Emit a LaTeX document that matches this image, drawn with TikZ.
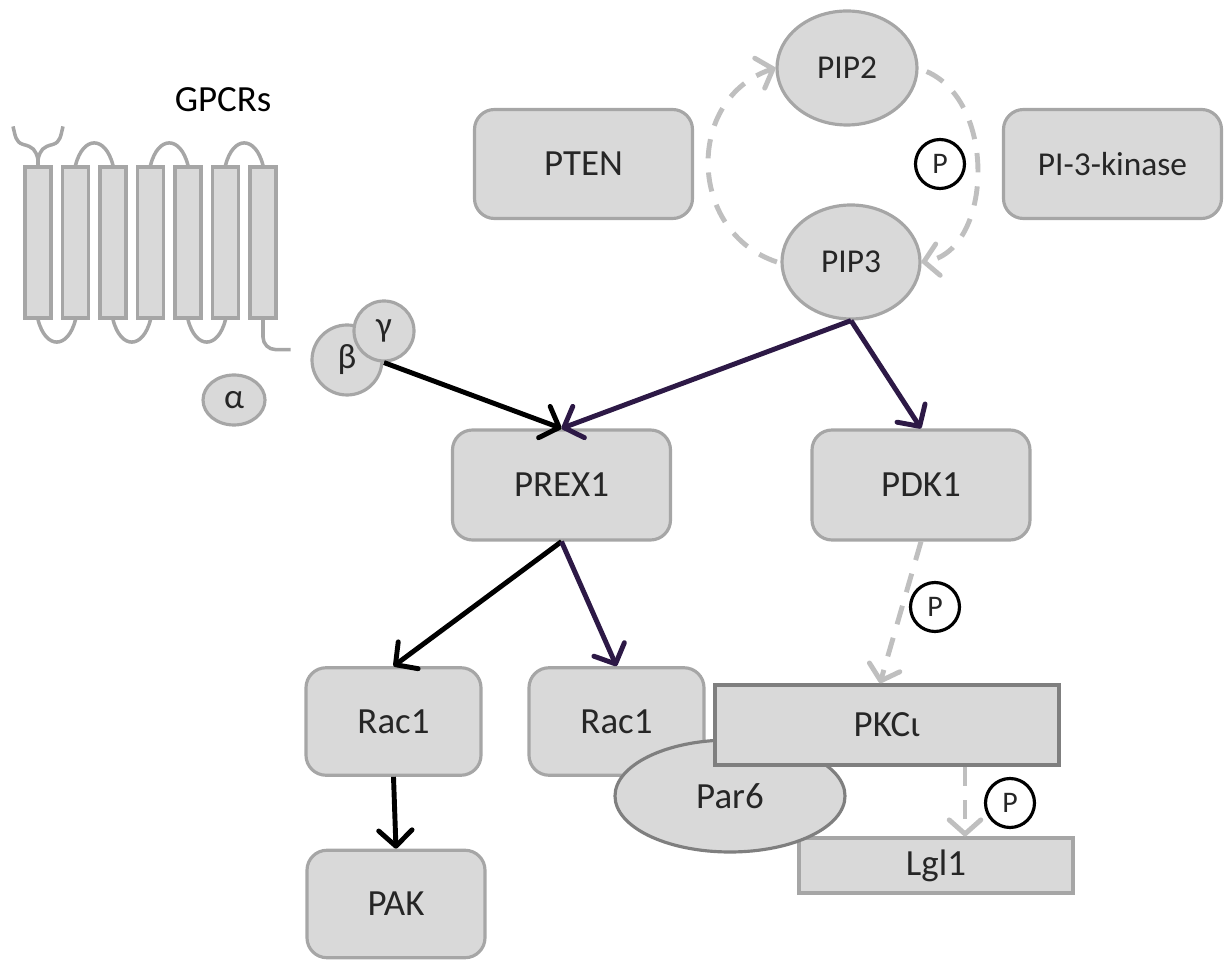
\documentclass[tikz,border=0pt]{standalone}
\usepackage{fontspec}
\setmainfont{Carlito}
\usetikzlibrary{arrows.meta,shapes.geometric}
\definecolor{boxfill}{HTML}{D9D9D9}
\definecolor{boxline}{HTML}{A6A6A6}
\definecolor{darkline}{HTML}{7F7F7F}
\definecolor{labeltext}{HTML}{262626}
\definecolor{actpurple}{RGB}{45,25,70}
\definecolor{phosgray}{HTML}{BFBFBF}

\begin{document}
\begin{tikzpicture}[every node/.style={font=\fontsize{21}{25}\selectfont, text=labeltext},
	prot/.style={draw=boxline, fill=boxfill, line width=1.8pt, rounded corners=0.4cm, minimum width=4.36cm, minimum height=2.18cm},
	smallprot/.style={prot, minimum width=3.5cm, minimum height=2.15cm},
	lipid/.style={ellipse, draw=boxline, fill=boxfill, line width=1.8pt, minimum width=2.8cm, minimum height=2.28cm, font=\fontsize{19}{23}\selectfont},
	subunit/.style={circle, draw=boxline, fill=boxfill, line width=1.8pt, inner sep=0pt, font=\fontsize{20}{24}\selectfont},
	helix/.style={draw=boxline, fill=boxfill, line width=1.8pt, minimum width=0.52cm, minimum height=3.02cm},
	loop/.style={draw=boxline, line width=2pt},
	phos/.style={circle, draw=black, fill=white, line width=1.8pt, minimum size=0.98cm, inner sep=0pt, font=\fontsize{17}{20}\selectfont},
	act/.style={line width=2.8pt, -{Straight Barb[length=9pt,width=19pt,round]}},
	phosarrow/.style={phosgray, line width=2.8pt, dash pattern=on 11pt off 8pt, -{Straight Barb[length=8pt,width=18pt,round]}}]
	\useasboundingbox (0,0) rectangle (24.5,19.28);
	% receptor with seven helices
	\node[text=black] (gpcr) at (4.46,17.28) {GPCRs};
	\foreach \i in {1,...,7}
		\node[helix] (tm\i) at ({0.01+0.75*\i},14.43) {};
	\foreach \a/\b in {2/3,4/5,6/7}
		\draw[loop] (tm\a.north) .. controls +(0.15,0.6) and +(-0.15,0.6) .. (tm\b.north);
	\foreach \a/\b in {1/2,3/4,5/6}
		\draw[loop] (tm\a.south) .. controls +(0.15,-0.6) and +(-0.15,-0.6) .. (tm\b.south);
	\draw[loop] (tm1.north) -- ++(0,0.12) coordinate (nterm);
	\draw[loop] (nterm) .. controls +(-0.05,0.2) and +(0.2,-0.05) .. ++(-0.3,0.3) .. controls +(-0.15,0.05) and +(0.05,-0.2) .. ++(-0.2,0.36);
	\draw[loop] (nterm) .. controls +(0.05,0.2) and +(-0.2,-0.05) .. ++(0.3,0.3) .. controls +(0.15,0.05) and +(-0.05,-0.2) .. ++(0.2,0.36);
	\draw[loop] (tm7.south) -- ++(0,-0.35) to[out=-90,in=180] ++(0.25,-0.25) -- ++(0.3,0);
	% G protein subunits
	\node[subunit, minimum width=1.24cm, minimum height=1.0cm, ellipse] (alpha) at (4.68,11.28) {α};
	\node[subunit, minimum size=1.4cm] (beta) at (6.94,12.08) {β};
	\node[subunit, minimum size=1.2cm] (gam) at (7.68,12.66) {γ};
	% lipid cycle
	\node[prot] (pten) at (11.67,16.0) {PTEN};
	\node[prot, font=\fontsize{19}{23}\selectfont] (pik) at (22.25,16.0) {PI-3-kinase};
	\node[lipid] (pip2) at (16.94,17.92) {PIP2};
	\node[lipid, minimum width=2.76cm] (pip3) at (17.02,14.04) {PIP3};
	\draw[phosarrow] ([xshift=-2pt]pip3.west) .. controls +(-1.8,0.6) and +(-1.8,-0.6) .. (pip2.west);
	\draw[phosarrow, shorten <=5pt] (pip2.east) .. controls +(1.6,-0.7) and +(1.4,0.2) .. (pip3.east);
	\node[phos] (p1) at (18.8,16.0) {P};
	% downstream of PIP3
	\node[prot, minimum height=2.2cm] (prex) at (11.23,9.58) {PREX1};
	\node[prot, minimum height=2.2cm] (pdk) at (18.42,9.58) {PDK1};
	\draw[act] (gam.south) -- (prex.north);
	\draw[act, actpurple] (pip3.south) -- (prex.north);
	\draw[act, actpurple] (pip3.south) -- (pdk.north);
	\node[smallprot] (raca) at (7.87,4.85) {Rac1};
	\node[smallprot] (racb) at (12.33,4.85) {Rac1};
	\node[smallprot, minimum width=3.56cm] (pak) at (7.92,1.2) {PAK};
	\draw[act] (prex.south) -- (raca.north);
	\draw[act, actpurple] (prex.south) -- (racb.north);
	\draw[act] (raca.south) -- (pak.north);
	% polarity complex
	\node[draw=boxline, fill=boxfill, line width=1.8pt, minimum width=5.48cm, minimum height=1.1cm] (lgl) at (18.72,1.97) {Lgl1};
	\node[ellipse, draw=darkline, fill=boxfill, line width=1.8pt, minimum width=4.6cm, minimum height=2.24cm] (par) at (14.6,3.36) {Par6};
	\node[draw=darkline, fill=boxfill, line width=2pt, minimum width=6.88cm, minimum height=1.6cm] (pkc) at (17.74,4.78) {PKCι};
	\draw[phosarrow] (pdk.south) -- ([xshift=-0.14cm]pkc.north);
	\node[phos] (p2) at (18.7,7.14) {P};
	\draw[phosarrow] ([xshift=1.56cm]pkc.south) -- ([xshift=1.56cm]pkc.south |- lgl.north);
	\node[phos] (p3) at (20.2,3.22) {P};
\end{tikzpicture}
\end{document}
